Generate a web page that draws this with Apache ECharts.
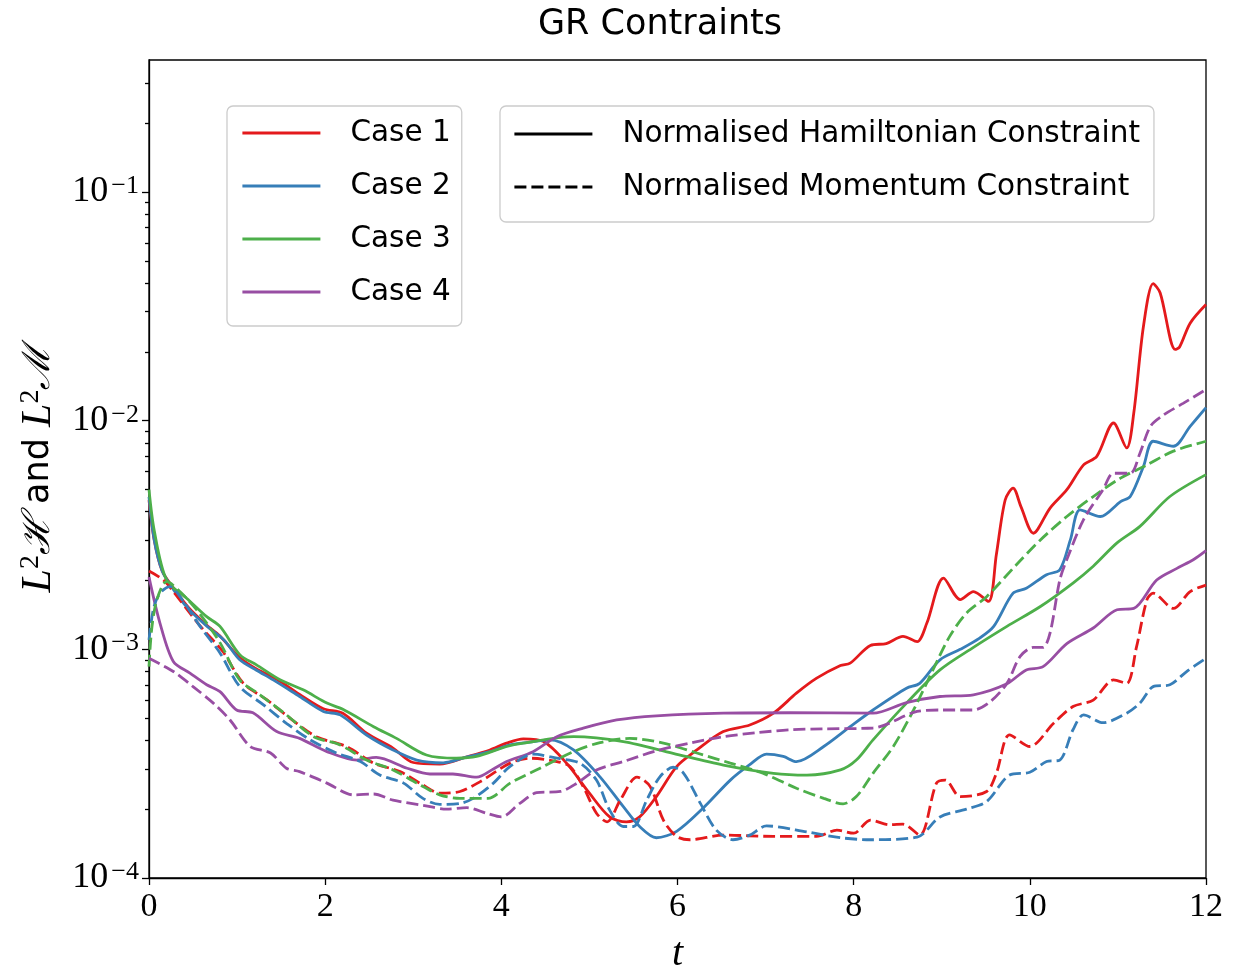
<!DOCTYPE html>
<html>
<head>
<meta charset="utf-8">
<title>GR Contraints</title>
<script src="https://cdn.jsdelivr.net/npm/echarts@6/dist/echarts.min.js"></script>
<style>
  html, body { margin: 0; padding: 0; background: #fff; }
  #chart { width: 1237px; height: 972px; }
</style>
</head>
<body>
<div id="chart"></div>
<script>
// [t, value] pairs
var case1H = [[0, 4.5e-3], [0.06, 3.0e-3], [0.15, 2.2e-3], [0.28, 1.85e-3], [0.45, 1.52e-3], [0.65, 1.28e-3], [0.8, 1.15e-3], [1.03, 9.2e-4], [1.22, 8.2e-4], [1.45, 7.4e-4], [1.71, 6.35e-4], [1.98, 5.5e-4], [2.2, 5.25e-4], [2.47, 4.3e-4], [2.77, 3.7e-4], [3.0, 3.2e-4], [3.3, 3.15e-4], [3.61, 3.39e-4], [3.87, 3.63e-4], [4.06, 3.89e-4], [4.25, 4.06e-4], [4.48, 3.95e-4], [4.74, 3.18e-4], [5.0, 2.35e-4], [5.23, 1.85e-4], [5.42, 1.76e-4], [5.57, 1.85e-4], [5.76, 2.27e-4], [5.99, 3.07e-4], [6.22, 3.63e-4], [6.52, 4.37e-4], [6.82, 4.67e-4], [7.09, 5.26e-4], [7.35, 6.43e-4], [7.58, 7.48e-4], [7.85, 8.5e-4], [7.96, 8.7e-4], [8.19, 1.04e-3], [8.37, 1.06e-3], [8.56, 1.14e-3], [8.72, 1.08e-3], [8.83, 1.3e-3], [9.02, 2.05e-3], [9.21, 1.65e-3], [9.36, 1.79e-3], [9.53, 1.62e-3], [9.62, 2.6e-3], [9.72, 4.5e-3], [9.81, 5.07e-3], [9.9, 4.2e-3], [10.04, 3.22e-3], [10.23, 4.15e-3], [10.42, 4.99e-3], [10.61, 6.41e-3], [10.76, 6.98e-3], [10.95, 9.77e-3], [11.1, 7.6e-3], [11.18, 1.08e-2], [11.29, 2.59e-2], [11.4, 3.98e-2], [11.48, 3.62e-2], [11.65, 2.05e-2], [11.7, 2.1e-2], [11.82, 2.67e-2], [12, 3.22e-2]];
var case2H = [[0, 4.64e-3], [0.06, 3.0e-3], [0.15, 2.2e-3], [0.28, 1.82e-3], [0.45, 1.5e-3], [0.66, 1.26e-3], [0.85, 1.1e-3], [1.03, 9.0e-4], [1.22, 8.1e-4], [1.41, 7.35e-4], [1.71, 6.22e-4], [1.98, 5.35e-4], [2.17, 5.17e-4], [2.47, 4.22e-4], [2.77, 3.63e-4], [3.04, 3.28e-4], [3.34, 3.19e-4], [3.61, 3.39e-4], [3.87, 3.57e-4], [4.1, 3.82e-4], [4.3, 3.92e-4], [4.55, 4.02e-4], [4.82, 3.63e-4], [5.12, 2.77e-4], [5.385, 2.05e-4], [5.57, 1.68e-4], [5.76, 1.5e-4], [5.99, 1.6e-4], [6.29, 2.02e-4], [6.6, 2.68e-4], [6.82, 3.13e-4], [7.01, 3.48e-4], [7.2, 3.4e-4], [7.35, 3.23e-4], [7.66, 3.76e-4], [7.96, 4.59e-4], [8.22, 5.43e-4], [8.6, 6.76e-4], [8.75, 7.1e-4], [8.98, 9.0e-4], [9.21, 1.0e-3], [9.43, 1.12e-3], [9.59, 1.26e-3], [9.81, 1.76e-3], [9.96, 1.85e-3], [10.19, 2.12e-3], [10.34, 2.23e-3], [10.46, 3.01e-3], [10.57, 4.07e-3], [10.8, 3.81e-3], [11.03, 4.43e-3], [11.14, 4.66e-3], [11.29, 6.31e-3], [11.4, 8.13e-3], [11.63, 7.73e-3], [11.82, 9.45e-3], [12, 1.14e-2]];
var case3H = [[0, 4.99e-3], [0.06, 3.3e-3], [0.2, 2.01e-3], [0.43, 1.67e-3], [0.655, 1.39e-3], [0.806, 1.26e-3], [1.033, 9.46e-4], [1.22, 8.55e-4], [1.487, 7.36e-4], [1.75, 6.65e-4], [2.02, 5.82e-4], [2.2, 5.47e-4], [2.55, 4.59e-4], [2.81, 4.08e-4], [3.15, 3.45e-4], [3.49, 3.34e-4], [3.72, 3.4e-4], [4.06, 3.76e-4], [4.25, 3.89e-4], [4.82, 4.15e-4], [5.385, 3.95e-4], [5.95, 3.51e-4], [6.52, 3.12e-4], [7.09, 2.87e-4], [7.47, 2.82e-4], [7.85, 2.97e-4], [8.03, 3.28e-4], [8.22, 4.02e-4], [8.6, 5.82e-4], [8.98, 8.13e-4], [9.36, 1.02e-3], [9.74, 1.26e-3], [10.12, 1.54e-3], [10.49, 1.95e-3], [10.72, 2.31e-3], [10.99, 2.92e-3], [11.25, 3.45e-3], [11.59, 4.66e-3], [12, 5.81e-3]];
var case4H = [[0, 2.07e-3], [0.125, 1.3e-3], [0.276, 8.85e-4], [0.465, 7.87e-4], [0.655, 7.0e-4], [0.806, 6.53e-4], [0.995, 5.43e-4], [1.18, 5.28e-4], [1.45, 4.37e-4], [1.71, 4.08e-4], [2.02, 3.57e-4], [2.36, 3.28e-4], [2.58, 3.37e-4], [2.93, 3.02e-4], [3.19, 2.85e-4], [3.45, 2.85e-4], [3.72, 2.76e-4], [3.91, 3.0e-4], [4.06, 3.23e-4], [4.36, 3.57e-4], [4.63, 4.15e-4], [4.93, 4.52e-4], [5.31, 4.91e-4], [5.76, 5.12e-4], [6.52, 5.26e-4], [7.28, 5.28e-4], [8.22, 5.26e-4], [8.6, 5.85e-4], [8.98, 6.22e-4], [9.36, 6.33e-4], [9.74, 7.07e-4], [9.96, 8.13e-4], [10.15, 8.4e-4], [10.42, 1.06e-3], [10.72, 1.24e-3], [10.99, 1.49e-3], [11.18, 1.51e-3], [11.44, 2.01e-3], [11.67, 2.26e-3], [11.86, 2.47e-3], [12, 2.7e-3]];

var case1M = [[0, 2.2e-3], [0.163, 2.01e-3], [0.276, 1.79e-3], [0.465, 1.44e-3], [0.616, 1.22e-3], [0.84, 9.76e-4], [1.07, 7.11e-4], [1.34, 6.01e-4], [1.6, 5.0e-4], [1.9, 4.15e-4], [2.24, 3.76e-4], [2.55, 3.18e-4], [2.85, 2.92e-4], [3.11, 2.55e-4], [3.3, 2.35e-4], [3.53, 2.39e-4], [3.76, 2.64e-4], [4.1, 3.18e-4], [4.33, 3.34e-4], [4.63, 3.23e-4], [4.78, 3.07e-4], [4.93, 2.51e-4], [5.08, 1.92e-4], [5.2, 1.76e-4], [5.35, 2.19e-4], [5.54, 2.76e-4], [5.69, 2.51e-4], [5.84, 1.79e-4], [5.99, 1.52e-4], [6.14, 1.47e-4], [6.52, 1.54e-4], [7.09, 1.52e-4], [7.58, 1.52e-4], [7.81, 1.62e-4], [8.0, 1.57e-4], [8.19, 1.79e-4], [8.41, 1.71e-4], [8.56, 1.72e-4], [8.75, 1.54e-4], [8.94, 2.6e-4], [9.04, 2.68e-4], [9.21, 2.27e-4], [9.51, 2.39e-4], [9.62, 2.87e-4], [9.77, 4.23e-4], [10.0, 3.76e-4], [10.27, 4.75e-4], [10.49, 5.62e-4], [10.72, 6.0e-4], [10.95, 7.35e-4], [11.1, 7.1e-4], [11.21, 1.02e-3], [11.33, 1.65e-3], [11.4, 1.76e-3], [11.63, 1.51e-3], [11.82, 1.79e-3], [12, 1.91e-3]];
var case2M = [[0, 1.1e-3], [0.05, 1.5e-3], [0.125, 1.76e-3], [0.24, 1.88e-3], [0.39, 1.62e-3], [0.58, 1.26e-3], [0.806, 9.64e-4], [1.03, 6.87e-4], [1.3, 5.72e-4], [1.56, 4.75e-4], [1.83, 4.02e-4], [2.13, 3.52e-4], [2.4, 3.23e-4], [2.62, 2.82e-4], [2.89, 2.6e-4], [3.11, 2.23e-4], [3.3, 2.1e-4], [3.53, 2.12e-4], [3.68, 2.23e-4], [3.91, 2.6e-4], [4.1, 3.08e-4], [4.36, 3.48e-4], [4.63, 3.34e-4], [4.89, 3.18e-4], [5.08, 2.68e-4], [5.23, 1.98e-4], [5.385, 1.68e-4], [5.5, 1.68e-4], [5.65, 2.19e-4], [5.8, 2.77e-4], [5.95, 3.05e-4], [6.07, 2.87e-4], [6.26, 2.12e-4], [6.44, 1.62e-4], [6.63, 1.47e-4], [6.82, 1.54e-4], [7.01, 1.69e-4], [7.47, 1.59e-4], [7.85, 1.5e-4], [8.19, 1.47e-4], [8.72, 1.51e-4], [8.98, 1.85e-4], [9.28, 2.0e-4], [9.51, 2.16e-4], [9.77, 2.82e-4], [10.0, 2.9e-4], [10.19, 3.23e-4], [10.34, 3.28e-4], [10.49, 4.45e-4], [10.61, 5.17e-4], [10.83, 4.78e-4], [11.1, 5.26e-4], [11.25, 5.82e-4], [11.4, 6.87e-4], [11.59, 7.0e-4], [11.78, 8.0e-4], [12, 9.14e-4]];
var case3M = [[0, 8.4e-4], [0.03, 1.22e-3], [0.09, 1.65e-3], [0.2, 1.98e-3], [0.35, 1.79e-3], [0.54, 1.49e-3], [0.806, 1.07e-3], [1.03, 7.35e-4], [1.26, 6.33e-4], [1.56, 5.17e-4], [1.87, 4.15e-4], [2.17, 3.82e-4], [2.47, 3.28e-4], [2.77, 2.97e-4], [3.04, 2.6e-4], [3.3, 2.31e-4], [3.53, 2.23e-4], [3.85, 2.23e-4], [4.1, 2.6e-4], [4.44, 3.02e-4], [4.82, 3.57e-4], [5.12, 3.91e-4], [5.46, 4.08e-4], [5.84, 3.89e-4], [6.22, 3.52e-4], [6.6, 3.18e-4], [6.97, 2.87e-4], [7.35, 2.47e-4], [7.66, 2.23e-4], [7.88, 2.11e-4], [8.03, 2.27e-4], [8.22, 2.87e-4], [8.45, 3.76e-4], [8.68, 5.43e-4], [8.9, 8.13e-4], [9.09, 1.14e-3], [9.28, 1.44e-3], [9.51, 1.7e-3], [9.85, 2.35e-3], [10.12, 3.01e-3], [10.42, 3.81e-3], [10.72, 4.66e-3], [11.03, 5.61e-3], [11.33, 6.41e-3], [11.63, 7.36e-3], [12, 8.13e-3]];
var case4M = [[0, 9.14e-4], [0.276, 8.0e-4], [0.5, 6.87e-4], [0.73, 5.82e-4], [0.92, 4.91e-4], [1.15, 3.76e-4], [1.38, 3.52e-4], [1.56, 3.02e-4], [1.71, 2.92e-4], [2.02, 2.6e-4], [2.32, 2.31e-4], [2.55, 2.33e-4], [2.77, 2.19e-4], [3.11, 2.08e-4], [3.38, 2.0e-4], [3.61, 2.03e-4], [3.83, 1.92e-4], [4.0, 1.85e-4], [4.21, 2.12e-4], [4.4, 2.36e-4], [4.67, 2.39e-4], [4.86, 2.6e-4], [5.08, 2.97e-4], [5.385, 3.23e-4], [5.76, 3.6e-4], [6.14, 3.89e-4], [6.52, 4.15e-4], [6.9, 4.32e-4], [7.28, 4.45e-4], [7.66, 4.49e-4], [8.22, 4.53e-4], [8.72, 5.35e-4], [8.98, 5.43e-4], [9.36, 5.43e-4], [9.55, 5.9e-4], [9.74, 7.1e-4], [9.89, 9.31e-4], [10.04, 1.02e-3], [10.15, 1.02e-3], [10.23, 1.18e-3], [10.34, 2.01e-3], [10.42, 2.47e-3], [10.61, 3.69e-3], [10.83, 4.99e-3], [10.95, 5.89e-3], [11.14, 5.89e-3], [11.25, 7.21e-3], [11.37, 9.45e-3], [11.52, 1.06e-2], [11.74, 1.19e-2], [12, 1.37e-2]];

var caseNames = ['Case 1', 'Case 2', 'Case 3', 'Case 4'];
var caseColors = ['#e41a1c', '#377eb8', '#4daf4a', '#984ea3'];
var styleNames = ['Normalised Hamiltonian Constraint', 'Normalised Momentum Constraint'];
var majorTicks = [1e-4, 1e-3, 1e-2, 1e-1];
var minorTicks = [];
[1e-4, 1e-3, 1e-2, 1e-1].forEach(function (d) {
  for (var k = 2; k <= 9; k++) {
    if (k * d < 0.378) minorTicks.push(+(k * d).toPrecision(3));
  }
});

var hamData = [case1H, case2H, case3H, case4H];
var momData = [case1M, case2M, case3M, case4M];

var chart = echarts.init(document.getElementById('chart'));

function lineSeries(name, data, color, dashed) {
  return {
    name: name,
    type: 'line',
    data: data,
    smooth: 0.3,
    symbol: 'none',
    showSymbol: false,
    color: color,
    lineStyle: { color: color, width: 2.8, type: dashed ? [12, 5] : 'solid' },
    emphasis: { disabled: true },
    silent: true
  };
}

var series = [];
for (var i = 0; i < 4; i++) {
  series.push(lineSeries(caseNames[i], hamData[i], caseColors[i], false));
}
for (var j = 0; j < 4; j++) {
  series.push(lineSeries(caseNames[j], momData[j], caseColors[j], true));
}
// legend-only entries for the line styles
series.push(lineSeries(styleNames[0], [], '#000', false));
series.push(lineSeries(styleNames[1], [], '#000', true));

var legendBase = {
  orient: 'vertical',
  top: 106,
  itemWidth: 78,
  itemHeight: 14,
  itemGap: 23,
  selectedMode: false,
  backgroundColor: 'rgba(255,255,255,0.8)',
  borderColor: '#cccccc',
  borderWidth: 1.3,
  borderRadius: 6,
  lineStyle: { width: 2.8 },
  itemStyle: { color: 'rgba(0,0,0,0)', borderWidth: 0, opacity: 0 },
  textStyle: {
    fontFamily: 'DejaVu Sans',
    fontSize: 29.5,
    lineHeight: 30,
    color: '#000',
    padding: [0, 0, 0, 25]
  }
};

var axisLineStyle = { color: '#000', width: 1.3 };

var option = {
  animation: false,
  backgroundColor: '#fff',
  title: {
    text: 'GR Contraints',
    left: 538,
    top: 7,
    padding: 0,
    textStyle: { fontFamily: 'DejaVu Sans', fontSize: 35, fontWeight: 'normal', color: '#000' }
  },
  legend: [
    Object.assign({}, legendBase, { data: caseNames, left: 227, padding: [12, 11, 19, 14] }),
    Object.assign({}, legendBase, { data: styleNames, left: 500, padding: [13, 14, 20, 13] })
  ],
  grid: {
    left: 149, right: 31, top: 60, bottom: 94,
    show: true, borderColor: '#000', borderWidth: 1.3,
    outerBoundsMode: 'none'
  },
  xAxis: {
    type: 'value',
    min: 0, max: 12, interval: 2,
    axisLine: { onZero: false, lineStyle: axisLineStyle },
    axisTick: { length: 7, lineStyle: axisLineStyle },
    splitLine: { show: false },
    axisLabel: { fontFamily: 'Liberation Serif', fontSize: 34, color: '#000', margin: 12 },
    name: 't',
    nameLocation: 'middle',
    nameGap: 56,
    nameTextStyle: { fontFamily: 'Liberation Serif', fontStyle: 'italic', fontSize: 40, color: '#000' }
  },
  yAxis: [
    {
      type: 'log', logBase: 10, min: 1e-4, max: 0.378,
      axisLine: { show: true, onZero: false, lineStyle: axisLineStyle },
      axisTick: { show: true, length: 7, lineStyle: axisLineStyle, customValues: majorTicks },
      minorTick: { show: false },
      splitLine: { show: false },
      axisLabel: {
        customValues: majorTicks,
        margin: 10,
        formatter: function (v) {
          var e = Math.round(Math.log(v) / Math.LN10);
          return '{b|10}{s|\u2212' + (-e) + '}';
        },
        rich: {
          b: { fontFamily: 'Liberation Serif', fontSize: 36, lineHeight: 38, color: '#000' },
          s: { fontFamily: 'Liberation Serif', fontSize: 26, lineHeight: 26, verticalAlign: 'top', color: '#000', padding: [0, 0, 0, 3] }
        }
      },
      name: '{it|L}{sup|2}{cal|\u210B}{sans| and }{it|L}{sup|2}{cal|\u2133}',
      nameLocation: 'middle',
      nameRotate: 90,
      nameGap: 88,
      nameTextStyle: {
        rich: {
          it: { fontFamily: 'Liberation Serif', fontStyle: 'italic', fontSize: 42, lineHeight: 44, color: '#000' },
          sup: { fontFamily: 'Liberation Serif', fontSize: 28, lineHeight: 28, verticalAlign: 'top', color: '#000' },
          cal: { fontFamily: 'DejaVu Serif', fontStyle: 'italic', fontSize: 38, lineHeight: 44, color: '#000' },
          sans: { fontFamily: 'DejaVu Sans', fontSize: 35, lineHeight: 44, color: '#000' }
        }
      }
    },
    {
      type: 'log', logBase: 10, min: 1e-4, max: 0.378,
      position: 'left',
      axisLine: { show: false },
      axisTick: { show: true, length: 4, lineStyle: axisLineStyle, customValues: minorTicks },
      axisLabel: { show: false },
      minorTick: { show: false },
      splitLine: { show: false }
    }
  ],
  series: series
};

chart.setOption(option);
</script>
</body>
</html>
